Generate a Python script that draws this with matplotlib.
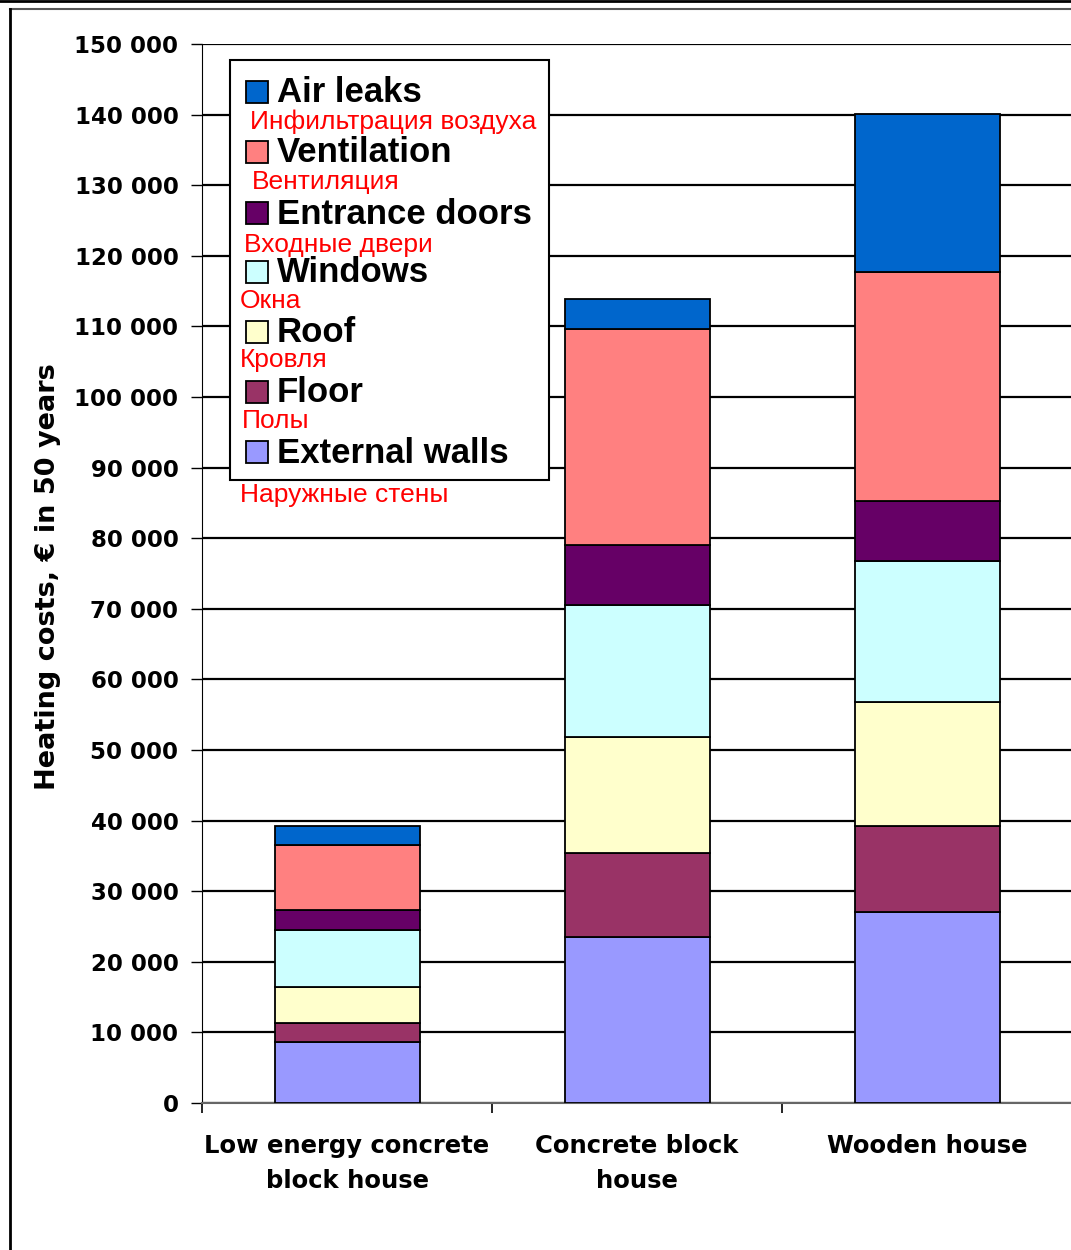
import numpy as np
import matplotlib.pyplot as plt
from matplotlib.patches import Rectangle
from matplotlib.lines import Line2D

plt.rcParams['font.family'] = ['Liberation Sans', 'DejaVu Sans']

# data
houses = ['Low energy concrete\nblock house', 'Concrete block\nhouse', 'Wooden house']
components = ['External walls', 'Floor', 'Roof', 'Windows', 'Entrance doors', 'Ventilation', 'Air leaks']
components_ru = ['Наружные стены', 'Полы', 'Кровля', 'Окна', 'Входные двери', 'Вентиляция', 'Инфильтрация воздуха']
colors = ['#9999FF', '#993366', '#FFFFCC', '#CCFFFF', '#660066', '#FF8080', '#0066CC']

external_walls = [8600, 23500, 27000]
floor = [2700, 11900, 12200]
roof = [5100, 16400, 17600]
windows = [8100, 18800, 20000]
entrance_doors = [2800, 8400, 8500]
ventilation = [9200, 30600, 32400]
air_leaks = [2700, 4300, 22400]

series = [external_walls, floor, roof, windows, entrance_doors, ventilation, air_leaks]

W, H = 1071, 1250
fig = plt.figure(figsize=(W / 100, H / 100), dpi=100)

def fx(px):
    return px / W

def fy(py):
    return 1 - py / H

# frame lines round the chart
fig.add_artist(Line2D([0, 1], [fy(1), fy(1)], color='black', lw=2))
fig.add_artist(Line2D([fx(10), 1], [fy(9), fy(9)], color='#555555', lw=1.5))
fig.add_artist(Line2D([fx(10), fx(10)], [fy(9), 0], color='black', lw=2))

ax = fig.add_axes([fx(202), fy(1103), fx(1072) - fx(202), fy(44) - fy(1103)])

x = np.arange(len(houses))
bottom = np.zeros(len(houses))
for vals, col, name in zip(series, colors, components):
    ax.bar(x, vals, width=0.5, bottom=bottom, color=col, edgecolor='black', linewidth=1.3, label=name, zorder=3)
    bottom += np.array(vals)

bold = dict(family='DejaVu Sans', fontweight='bold')

ax.set_xlim(-0.5, 2.5)
ax.set_ylim(0, 150000)
ax.set_yticks(np.arange(0, 150001, 10000))
ax.set_yticklabels([f'{v:,}'.replace(',', ' ') for v in range(0, 150001, 10000)],
                   fontsize=16.5, **bold)
ax.yaxis.grid(True, color='black', lw=1.6, zorder=0)
ax.tick_params(axis='y', length=8, width=1, pad=9, direction='out')

ax.set_xticks([-0.5, 0.5, 1.5])
ax.set_xticklabels([])
ax.tick_params(axis='x', which='major', length=7, width=1.2, direction='out')
ax.set_xticks(x, minor=True)
ax.set_xticklabels(houses, minor=True, fontsize=17.5, linespacing=1.6, **bold)
ax.tick_params(axis='x', which='minor', length=0, pad=22)

for s in ['top', 'right']:
    ax.spines[s].set_visible(False)
ax.spines['left'].set_color('black')
ax.spines['bottom'].set_color('#666666')
ax.spines['bottom'].set_linewidth(1.5)

fig.text(fx(48), fy(577), 'Heating costs, € in 50 years', rotation=90, ha='center', va='center',
         fontsize=19.5, **bold)

# legend, drawn by hand with the russian names in red
fig.add_artist(Rectangle((fx(230), fy(480)), fx(549) - fx(230), fy(60) - fy(480),
                         facecolor='white', edgecolor='black', lw=1.5, zorder=5))
entry_y = [452, 392, 332, 272, 213, 152, 92]
ru_pos = [(240, 495), (242, 421), (240, 360), (240, 301), (244, 245), (252, 182), (250, 122)]
for name, ru, col, ey, (rx, ry) in zip(components, components_ru, colors, entry_y, ru_pos):
    fig.add_artist(Rectangle((fx(246), fy(ey + 11)), fx(22), 22 / H,
                             facecolor=col, edgecolor='black', lw=1.3, zorder=6))
    fig.text(fx(277), fy(ey + 1), name, ha='left', va='center', fontsize=25, fontweight='bold', zorder=7)
    fig.text(fx(rx), fy(ry), ru, ha='left', va='center', fontsize=19, color='red', zorder=7)

fig.savefig('out.png', dpi=100)
